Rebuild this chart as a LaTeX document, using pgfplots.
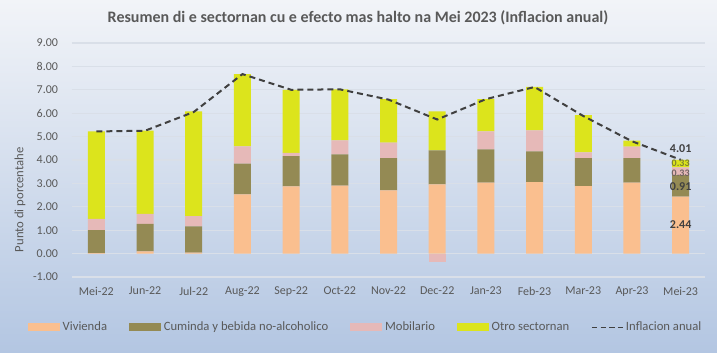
\documentclass[border=0pt]{standalone}
\usepackage{pgfplots}
\usepackage{pgfplotstable}
\pgfplotsset{compat=1.18}
\usepackage{fontspec}
\setmainfont{Carlito}
\definecolor{viv}{HTML}{FABF8F}
\definecolor{cum}{HTML}{948A54}
\definecolor{mob}{HTML}{E6B9B8}
\definecolor{otro}{HTML}{DCE41C}
\definecolor{txt}{HTML}{595959}
\definecolor{grd}{HTML}{D9DFE8}
\definecolor{lin}{HTML}{404040}
\definecolor{bgtop}{HTML}{F2F4F8}
\definecolor{bgmid}{HTML}{CFDAEA}
\definecolor{bgbot}{HTML}{B3C6E2}

\pgfplotstableread{
x viv cum mob otro
0 0.02 0.98 0.48 3.74
1 0.10 1.17 0.43 3.55
2 0.04 1.12 0.44 4.48
3 2.53 1.31 0.74 3.09
4 2.87 1.30 0.13 2.70
5 2.90 1.34 0.60 2.18
6 2.70 1.38 0.66 1.86
7 2.96 1.45 0.00 1.67
8 3.03 1.42 0.77 1.38
9 3.05 1.32 0.90 1.85
10 2.88 1.20 0.25 1.59
11 3.03 1.05 0.49 0.26
12 2.44 0.91 0.33 0.33
}\barstab

\pgfplotstableread{
x mobneg
7 -0.35
}\negtab

\pgfplotstableread{
x inf
0 5.22
1 5.25
2 6.05
3 7.67
4 7.00
5 7.02
6 6.58
7 5.73
8 6.60
9 7.12
10 5.88
11 4.80
12 4.01
}\infltab

\begin{document}
\begin{tikzpicture}
\shade[top color=bgtop, middle color=bgmid, bottom color=bgbot] (-54pt,-57pt) rectangle (483.75pt,207.75pt);
\node[font=\bfseries\fontsize{12}{14}\selectfont, text=txt] at (214.5pt,194.25pt) {Resumen di e sectornan cu e efecto mas halto na Mei 2023 (Inflacion anual)};
\begin{axis}[
  scale only axis, width=474.75pt, height=175.5pt,
  xmin=-0.5, xmax=12.5, ymin=-1, ymax=9,
  ybar stacked, bar width=12.75pt,
  xtick={0,...,12},
  xticklabels={Mei-22,Jun-22,Jul-22,Aug-22,Sep-22,Oct-22,Nov-22,Dec-22,Jan-23,Feb-23,Mar-23,Apr-23,Mei-23},
  ytick={-1,0,...,9},
  /pgf/number format/fixed, /pgf/number format/fixed zerofill, /pgf/number format/precision=2, /pgf/number format/assume math mode=true,
  yticklabel style={anchor=east, xshift=-7pt},
  xticklabel style={yshift=-4pt},
  tick label style={font=\fontsize{9}{10}\selectfont, text=txt},
  axis line style={draw=none}, major tick length=0pt,
  ymajorgrids, grid style={grd, line width=0.8pt},
  ylabel={Punto di porcentahe},
  every axis y label/.style={at={(axis description cs:-0.082,0.33)}, rotate=90, anchor=center, font=\fontsize{9.5}{11}\selectfont, text=txt},
  legend columns=5,
  legend style={draw=none, fill=none, at={(axis description cs:0.4645,-0.215)}, anchor=center,
     font=\fontsize{9.5}{11}\selectfont, text=txt,
     /tikz/every even column/.append style={column sep=14.5pt}},
]
\addplot[fill=viv, draw=none, legend image code/.code={\fill[viv] (0pt,-3pt) rectangle (24pt,3pt);}] table[x=x,y=viv] {\barstab};
\addplot[fill=cum, draw=none, legend image code/.code={\fill[cum] (0pt,-3pt) rectangle (24pt,3pt);}] table[x=x,y=cum] {\barstab};
\addplot[fill=mob, draw=none, legend image code/.code={\fill[mob] (0pt,-3pt) rectangle (24pt,3pt);}] table[x=x,y=mob] {\barstab};
\addplot[fill=otro, draw=none, legend image code/.code={\fill[otro] (0pt,-3pt) rectangle (24pt,3pt);}] table[x=x,y=otro] {\barstab};
\addlegendimage{legend image code/.code={\draw[lin, line width=1pt, dash pattern=on 4pt off 2.5pt] (0pt,0pt) -- (23pt,0pt);}}
\legend{Vivienda, Cuminda y bebida no-alcoholico, Mobilario, Otro sectornan, Inflacion anual}
\end{axis}
\begin{axis}[
  scale only axis, width=474.75pt, height=175.5pt,
  xmin=-0.5, xmax=12.5, ymin=-1, ymax=9, hide axis,
]
\addplot[ybar, bar width=12.75pt, fill=mob, draw=none] table[x=x,y=mobneg] {\negtab};
\addplot[lin, line width=1.5pt, dash pattern=on 4.5pt off 3pt, mark=none] table[x=x,y=inf] {\infltab};
\node[font=\bfseries\fontsize{9}{10}\selectfont, text=lin] at (axis cs:12,1.22) {2.44};
\node[font=\bfseries\fontsize{9}{10}\selectfont, text=lin] at (axis cs:12,2.87) {0.91};
\node[font=\bfseries\fontsize{7.5}{8}\selectfont, text=lin!70!mob, inner sep=0pt] at (axis cs:12,3.43) {0.33};
\node[font=\bfseries\fontsize{7.5}{8}\selectfont, text=lin!60!otro, inner sep=0pt] at (axis cs:12,3.86) {0.33};
\node[font=\bfseries\fontsize{9}{10}\selectfont, text=lin] at (axis cs:12,4.47) {4.01};
\end{axis}
\pgfresetboundingbox
\useasboundingbox (-54pt,-57pt) rectangle (483.75pt,207.75pt);
\end{tikzpicture}
\end{document}
